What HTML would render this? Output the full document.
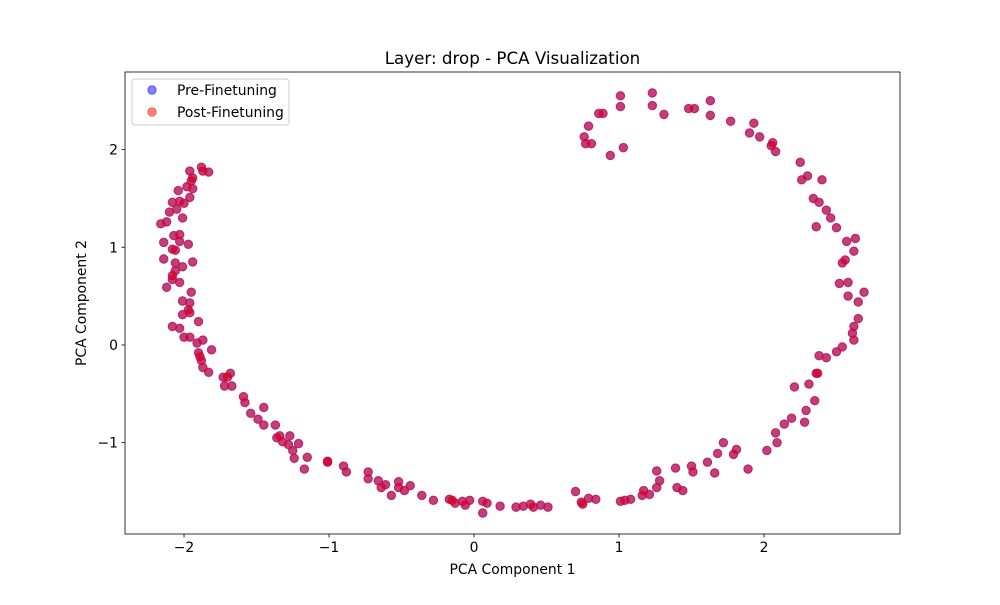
<!DOCTYPE html>
<html><head><meta charset="utf-8"><style>
body{margin:0;background:#fff}
svg text{font-family:"DejaVu Sans","Liberation Sans",sans-serif;fill:#000}
</style></head><body>
<svg id="chart" width="1000" height="600">
<rect x="0" y="0" width="1000" height="600" fill="#fff"/>
<g id="marks"></g>
<g id="axes"></g>
</svg>
<script>
const preX=[1.23,1.63,1.01,1.01,1.23,1.31,1.48,1.52,1.63,1.77,1.93,1.90,1.97,2.06,2.05,2.08,0.89,0.86,0.79,0.76,0.77,0.81,1.03,0.94,2.25,2.30,2.26,2.40,2.34,2.38,2.43,2.46,2.50,2.36,2.57,2.63,2.62,2.56,2.54,2.52,2.58,2.58,2.65,2.69,2.65,2.62,2.61,2.62,2.54,2.50,2.43,2.38,2.37,2.36,2.31,2.35,2.21,2.29,2.28,2.19,2.14,2.09,2.08,2.02,1.89,1.81,1.79,1.72,1.68,1.66,1.61,1.51,1.50,1.39,1.44,1.40,1.26,1.28,1.26,1.21,1.17,1.16,1.08,1.04,1.01,0.84,0.79,0.75,0.74,0.70,0.51,0.46,0.41,0.39,0.34,0.29,0.18,0.09,0.06,0.06,-0.03,-0.06,-0.08,-0.15,-0.13,-0.17,-0.28,-0.36,-0.44,-0.48,-0.52,-0.52,-0.57,-0.61,-0.64,-0.66,-0.73,-0.73,-0.88,-0.90,-1.01,-1.01,-1.15,-1.17,-1.21,-1.24,-1.25,-1.28,-1.27,-1.32,-1.34,-1.37,-1.36,-1.45,-1.49,-1.45,-1.54,-1.58,-1.59,-1.67,-1.72,-1.68,-1.70,-1.73,-1.83,-1.87,-1.89,-1.88,-1.90,-1.81,-1.91,-1.87,-1.96,-2.00,-1.90,-2.08,-2.03,-1.96,-1.97,-1.96,-2.01,-2.01,-1.95,-2.12,-2.03,-2.08,-2.08,-2.06,-2.01,-2.06,-1.94,-2.14,-2.06,-2.08,-1.97,-2.14,-2.03,-2.07,-2.03,-2.12,-2.01,-2.16,-2.10,-2.05,-1.96,-2.08,-2.03,-2.00,-1.94,-1.98,-2.04,-1.95,-1.94,-1.96,-1.88,-1.87,-1.83];
const preY=[2.58,2.50,2.55,2.44,2.45,2.36,2.42,2.42,2.35,2.29,2.27,2.17,2.13,2.07,2.04,1.98,2.37,2.37,2.24,2.13,2.06,2.06,2.02,1.94,1.87,1.73,1.69,1.69,1.50,1.46,1.38,1.30,1.20,1.21,1.06,1.09,0.96,0.87,0.84,0.63,0.64,0.50,0.44,0.54,0.27,0.19,0.12,0.05,-0.02,-0.07,-0.13,-0.11,-0.29,-0.29,-0.40,-0.57,-0.43,-0.67,-0.79,-0.75,-0.81,-1.00,-0.90,-1.08,-1.27,-1.07,-1.12,-1.00,-1.11,-1.31,-1.20,-1.30,-1.24,-1.26,-1.49,-1.46,-1.29,-1.39,-1.46,-1.53,-1.49,-1.54,-1.58,-1.59,-1.60,-1.58,-1.57,-1.63,-1.61,-1.50,-1.66,-1.64,-1.66,-1.63,-1.65,-1.66,-1.65,-1.62,-1.72,-1.60,-1.59,-1.64,-1.60,-1.59,-1.62,-1.58,-1.59,-1.54,-1.44,-1.49,-1.46,-1.40,-1.54,-1.43,-1.46,-1.39,-1.30,-1.37,-1.30,-1.24,-1.20,-1.19,-1.15,-1.27,-1.01,-1.16,-1.08,-1.02,-0.93,-0.99,-0.93,-0.82,-0.95,-0.82,-0.76,-0.64,-0.70,-0.59,-0.53,-0.42,-0.42,-0.29,-0.33,-0.33,-0.28,-0.23,-0.12,-0.16,-0.08,-0.05,0.02,0.05,0.08,0.08,0.24,0.19,0.17,0.33,0.36,0.43,0.31,0.45,0.54,0.59,0.64,0.67,0.71,0.76,0.80,0.84,0.85,0.88,0.97,0.98,1.03,1.05,1.06,1.12,1.13,1.26,1.30,1.24,1.36,1.39,1.51,1.46,1.47,1.45,1.60,1.62,1.58,1.68,1.71,1.78,1.82,1.78,1.77];
const postX=preX;
const postY=preY;
const xTicks=[-2,-1,0,1,2];
const yTicks=[-1,0,1,2];

const L=125,R=900,T=72,B=534;
const xMin=-2.407,xMax=2.938,yMin=-1.935,yMax=2.794;
const sx=v=>L+(v-xMin)/(xMax-xMin)*(R-L);
const sy=v=>B-(v-yMin)/(yMax-yMin)*(B-T);
const NS='http://www.w3.org/2000/svg';
const marks=document.getElementById('marks');
const axes=document.getElementById('axes');
function mk(tag,attrs,parent){const e=document.createElementNS(NS,tag);for(const k in attrs)e.setAttribute(k,attrs[k]);parent.appendChild(e);return e;}

preX.forEach((x,i)=>{
 const c=mk('circle',{cx:sx(x),cy:sy(preY[i]),r:4.2,fill:'rgba(0,0,255,0.5)',stroke:'rgba(0,0,255,0.5)','stroke-width':1},marks);
 
 
});
postX.forEach((x,i)=>{
 const c=mk('circle',{cx:sx(x),cy:sy(postY[i]),r:4.2,fill:'rgba(255,0,0,0.5)',stroke:'rgba(255,0,0,0.5)','stroke-width':1},marks);
 
 
});

const frame=mk('rect',{x:L,y:T,width:R-L,height:B-T,fill:'none',stroke:'#000','stroke-width':0.8},axes);


xTicks.forEach(t=>{
 const x=sx(t);
 mk('line',{x1:x,x2:x,y1:B,y2:B+3.5,stroke:'#000','stroke-width':0.8},axes);
 const tx=mk('text',{x:x,y:B+18,'text-anchor':'middle','font-size':'13.9'},axes);
 tx.textContent=(t<0?'\u2212'+(-t):String(t));
 
 
});
yTicks.forEach(t=>{
 const y=sy(t);
 mk('line',{x1:L-3.5,x2:L,y1:y,y2:y,stroke:'#000','stroke-width':0.8},axes);
 const tx=mk('text',{x:L-7,y:y+5,'text-anchor':'end','font-size':'13.9'},axes);
 tx.textContent=(t<0?'\u2212'+(-t):String(t));
 
 
});
const title=mk('text',{x:512.5,y:64,'text-anchor':'middle','font-size':'16.7'},axes);
title.textContent='Layer: drop - PCA Visualization';


const xl=mk('text',{x:512.5,y:574,'text-anchor':'middle','font-size':'13.9'},axes);
xl.textContent='PCA Component 1';


const yl=mk('text',{x:0,y:0,'text-anchor':'middle','font-size':'13.9',transform:'translate(86,303) rotate(-90)'},axes);
yl.textContent='PCA Component 2';



const lg=mk('g',{},axes);


mk('rect',{x:132,y:79,width:157,height:46,rx:3,fill:'rgba(255,255,255,0.8)',stroke:'#ccc','stroke-width':1},lg);
const e1=mk('circle',{cx:152,cy:90,r:4.2,fill:'rgba(0,0,255,0.5)',stroke:'rgba(0,0,255,0.5)'},lg);


const t1=mk('text',{x:177,y:95,'font-size':'13.9'},lg);
t1.textContent='Pre-Finetuning';


const e2=mk('circle',{cx:152,cy:112,r:4.2,fill:'rgba(255,0,0,0.5)',stroke:'rgba(255,0,0,0.5)'},lg);


const t2=mk('text',{x:177,y:117,'font-size':'13.9'},lg);
t2.textContent='Post-Finetuning';


</script>
</body></html>
